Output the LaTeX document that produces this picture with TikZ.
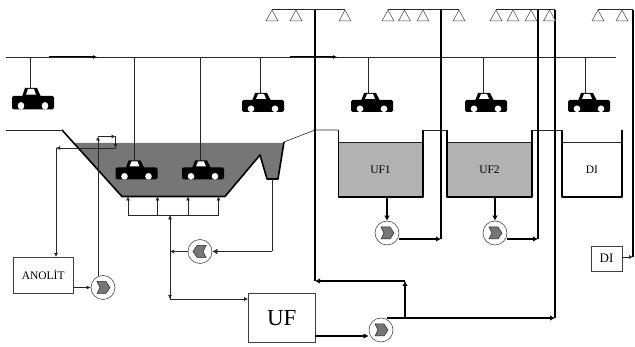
\documentclass[tikz,border=0pt]{standalone}
\usepackage{fontspec}
\setmainfont{Liberation Serif}
\usepackage{tikz}
\usetikzlibrary{arrows.meta,positioning,calc}

\definecolor{bathdark}{HTML}{767676}
\definecolor{bathlight}{HTML}{B2B2B2}

\tikzset{
  thinline/.style={line width=0.6pt, draw=black!85},
  thickline/.style={line width=1.6pt, draw=black},
  wall/.style={line width=1.6pt, draw=black, line join=round},
  tiplite/.style={-{Latex[length=4pt,width=4pt]}},
  tipbold/.style={-{Latex[length=5pt,width=5.5pt]}},
  box/.style={draw=black!75, line width=0.6pt, fill=white, inner sep=0pt},
  liquid/.style={inner sep=0pt, minimum width=84pt, minimum height=54pt, font=\fontsize{11.5}{12}\selectfont},
  pumpright/.style={circle, draw=black!70, line width=0.6pt, fill=white, minimum size=24pt, inner sep=0pt,
    path picture={\filldraw[fill=bathdark, draw=black!85, line width=0.5pt, shift={(path picture bounding box.center)}]
      (-6,-6) -- (3,-6) -- (7,0) -- (3,6) -- (-6,6) -- (-3,0) -- cycle;}},
  pumpleft/.style={circle, draw=black!70, line width=0.6pt, fill=white, minimum size=24pt, inner sep=0pt,
    path picture={\filldraw[fill=bathdark, draw=black!85, line width=0.5pt, shift={(path picture bounding box.center)}]
      (6,-6) -- (-3,-6) -- (-7,0) -- (-3,6) -- (6,6) -- (3,0) -- cycle;}},
  nozzle/.pic={\draw[line width=0.5pt, draw=black!75, fill=white] (0,0.5) -- (-6,11.5) -- (6,11.5) -- cycle;},
  car/.pic={
    \fill[black, rounded corners=1.5pt] (-21,-12) rectangle (21,0);
    \fill[black] (-11,-11) -- (-8,-19) -- (4,-19) -- (8,-11) -- cycle;
    \fill[white] (-7,-13) -- (-5,-18) -- (1,-18) -- (3,-13) -- cycle;
    \fill[white] (-12,-3.2) circle (3.3);
    \fill[white] (12,-3.2) circle (3.3);
  },
}

\begin{document}
\begin{tikzpicture}[x=1pt, y=-1pt]
\useasboundingbox (0,0) rectangle (635,347);

% main bath
\fill[bathdark] (74,143) -- (284,143) -- (278,179) -- (267,179) -- (260,155) -- (225,196.5) -- (122,196.5) -- cycle;
\draw[wall] (62,130) -- (122,196.5) -- (225,196.5) -- (260,155) -- (267,179) -- (278,179) -- (284,142);
\coordinate (inL) at (6,130);
\coordinate (inR) at (62,130);
\draw[thinline] (inL) -- (inR);
\draw[thinline] (284,142) -- (315,130) -- (338,130);

% rinse tanks
\node[liquid, fill=bathlight] (ufone) at (380.5,170) {UF1};
\node[liquid, fill=bathlight] (uftwo) at (489.5,170) {UF2};
\node[liquid, minimum width=60pt, fill=white] (ditank) at (592,170) {DI};
\draw[thinline] (ufone.north west) -- (ufone.north east);
\draw[thinline] (uftwo.north west) -- (uftwo.north east);
\draw[thinline] (ditank.north west) -- (ditank.north east);
\draw[wall] (338.5,130) -- (338.5,197) -- (423,197) -- (423,130);
\draw[wall] (447,130) -- (447,197) -- (532,197) -- (532,130);
\draw[wall] (562,130) -- (562,197) -- (622,197) -- (622,130);
\draw[thinline] (423,130) -- (447,130);
\draw[thinline] (532,130) -- (562,130);

% rail and hangers
\coordinate (railL) at (6,57.5);
\coordinate (railR) at (616,57.5);
\draw[thinline] (railL) -- (railR);
\draw[line width=1pt, tiplite] (49,57) -- (97,57);
\draw[line width=1pt, tiplite] (290,57) -- (337,57);
\foreach \hx/\hy in {30/88, 134/162, 200.5/162, 260.5/94, 368.5/94, 483/94, 585/94}
  \draw[thinline] (\hx,57.5) -- (\hx,\hy);

% cars
\pic[yscale=1.14] at (33,109.5) {car};
\pic at (136.5,179.5) {car};
\pic at (203,179.5) {car};
\pic at (263,112) {car};
\pic at (372,112) {car};
\pic at (486,112) {car};
\pic at (589,112) {car};

% boxes
\node[box, minimum width=60.5pt, minimum height=36.5pt, font=\fontsize{11.5}{12}\selectfont] (anolit) at (43.2,275.2) {ANOLİT};
\node[box, minimum width=66.5pt, minimum height=48.5pt, font=\fontsize{23}{24}\selectfont] (ufbox) at (281.7,318) {UF};
\node[box, minimum width=31pt, minimum height=25pt, font=\fontsize{13}{14}\selectfont] (dibox) at (606.5,258.5) {DI};

% pumps
\node[pumpright] (pumpanolit) at (103,287.5) {};
\node[pumpleft] (pumpback) at (200,251.5) {};
\node[pumpright] (pumpufone) at (387,233) {};
\node[pumpright] (pumpuftwo) at (495,233) {};
\node[pumpright] (pumpuf) at (381,330) {};

% anolyte loop
\draw[thinline, tiplite] (anolit.east |- pumpanolit) -- (pumpanolit.west);
\coordinate (loopA) at (98,136.5);
\coordinate (loopB) at (115.5,136.5);
\coordinate (loopC) at (115.5,148);
\coordinate (loopD) at (56,148);
\draw[thinline, tiplite] (98,276) -- (loopA);
\draw[thinline, tiplite] (loopA) -- (loopB);
\draw[thinline, tiplite] (loopB) -- (loopC);
\draw[thinline, tiplite] (loopC) -- (loopD);
\draw[thinline, tiplite] (loopD) -- (56,257);

% air grid
\coordinate (gridc) at (170,215.3);
\draw[thinline] (128,215.3) -- (218.5,215.3);
\foreach \gx in {128,157.5,188,218.5}
  \draw[thinline, tiplite] (\gx,215.3) -- (\gx,196.5);
\coordinate (ufjoin) at (170,299);
\draw[thinline, tiplite] (ufjoin) -- (gridc);
\draw[thinline, tiplite] (gridc) -- (ufjoin);
\draw[thinline, tiplite] (ufjoin) -- (ufjoin -| ufbox.west);
\draw[thinline, tiplite] (pumpback.west) -- (170,251.5);
\coordinate (sump) at (272,179);
\coordinate (sumpk) at (272,251.5);
\draw[thinline] (sump) -- (sumpk);
\draw[thinline, tipbold] (sumpk) -- (pumpback.east);

% rinse circuits
\draw[thickline, tipbold] (387,197) -- (pumpufone.north);
\draw[thickline, tipbold] (495,197) -- (pumpuftwo.north);
\coordinate (riserone) at (441,239);
\coordinate (risertwo) at (538,239);
\draw[thickline, tipbold] (399,239) -- (riserone);
\draw[thickline, tipbold] (507,239) -- (risertwo);
\draw[thickline] (riserone) -- (441,10);
\draw[thickline] (risertwo) -- (538,10);

% UF permeate
\coordinate (ufret) at (315,281);
\coordinate (ufsplit) at (405,318);
\coordinate (ufup) at (405,281);
\coordinate (ufend) at (555,318);
\draw[thickline, tipbold] (ufbox.east |- 0,336) -- (pumpuf.west |- 0,336);
\draw[thickline] (387,318) -- (ufsplit);
\draw[thickline, tipbold] (ufsplit) -- (ufend);
\draw[thickline, tipbold] (ufsplit) -- (ufup);
\draw[thickline, tipbold] (ufup) -- (ufret);
\draw[line width=2pt] (315,10) -- (ufret);
\draw[thickline] (ufend) -- (555,10);

% DI feed
\coordinate (diup) at (633,257);
\draw[thinline, tiplite] (dibox.east |- diup) -- (diup);
\draw[thickline] (diup) -- (633,10);

% spray rows
\draw[thinline] (272,9.5) -- (345,9.5);
\draw[thinline] (388,9.5) -- (459,9.5);
\draw[thinline] (496,9.5) -- (555,9.5);
\draw[thinline] (598,9.5) -- (633,9.5);
\foreach \sx in {272,296,345,388,404.5,423,459,496,513,531,549.5,598,622}
  \pic at (\sx,9.5) {nozzle};
\end{tikzpicture}
\end{document}
